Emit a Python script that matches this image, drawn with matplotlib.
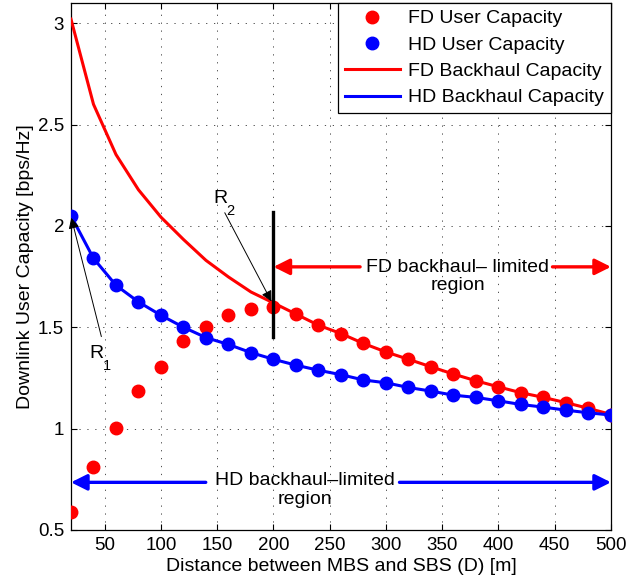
import matplotlib
matplotlib.use("Agg")
import matplotlib.pyplot as plt
from matplotlib.lines import Line2D

plt.rcParams['font.family'] = ['Liberation Sans', 'DejaVu Sans']
plt.rcParams['font.size'] = 14

# ---------------- data ----------------
distance = [20, 40, 60, 80, 100, 120, 140, 160, 180, 200, 220, 240, 260,
            280, 300, 320, 340, 360, 380, 400, 420, 440, 460, 480, 500]
fd_user = [0.59, 0.81, 1.005, 1.185, 1.305, 1.43, 1.50, 1.562, 1.592, 1.60,
           1.565, 1.51, 1.469, 1.42, 1.378, 1.342, 1.305, 1.269, 1.236,
           1.206, 1.177, 1.154, 1.128, 1.10, 1.067]
fd_backhaul = [3.02, 2.60, 2.352, 2.178, 2.043, 1.933, 1.83, 1.748, 1.674,
               1.62, 1.565, 1.51, 1.469, 1.42, 1.378, 1.342, 1.305, 1.269,
               1.236, 1.206, 1.177, 1.154, 1.128, 1.10, 1.07]
hd_user = [2.05, 1.84, 1.707, 1.625, 1.559, 1.50, 1.449, 1.415, 1.375,
           1.342, 1.313, 1.288, 1.266, 1.24, 1.226, 1.203, 1.185, 1.165,
           1.154, 1.137, 1.119, 1.106, 1.091, 1.078, 1.067]
hd_backhaul = hd_user
xticks = [50, 100, 150, 200, 250, 300, 350, 400, 450, 500]
yticks = [0.5, 1, 1.5, 2, 2.5, 3]
ytick_labels = ['0.5', '1', '1.5', '2', '2.5', '3']
series_labels = ['FD User Capacity', 'HD User Capacity',
                 'FD Backhaul Capacity', 'HD Backhaul Capacity']

# ---------------- figure ----------------
fig = plt.figure(figsize=(6.26, 5.84), dpi=100)
ax = fig.add_axes([0.1134, 0.0925, 0.8626, 0.9025])

RED = '#ff0000'
BLUE = '#0000ff'
ms = 9
lw = 2.2
FS = 14

ax.plot(distance, fd_user, 'o', color=RED, ms=ms, mec=RED, zorder=3)
ax.plot(distance, fd_backhaul, '-', color=RED, lw=lw, zorder=3)
ax.plot(distance, hd_backhaul, '-', color=BLUE, lw=lw, zorder=4)
ax.plot(distance, hd_user, 'o', color=BLUE, ms=ms, mec=BLUE, zorder=4)

ax.set_xlim(20, 500)
ax.set_ylim(0.5, 3.1)
ax.set_xticks(xticks)
ax.set_yticks(yticks)
ax.set_yticklabels(ytick_labels)
ax.tick_params(direction='in', top=True, right=True, length=4.5, width=0.8,
               labelsize=13.5, pad=5)
ax.grid(True, linestyle=(0, (1.5, 8)), color='0.2', linewidth=0.6)
for s in ax.spines.values():
    s.set_linewidth(0.9)

ax.set_xlabel('Distance between MBS and SBS (D) [m]', fontsize=FS, labelpad=3)
ax.set_ylabel('Downlink User Capacity [bps/Hz]', fontsize=FS, labelpad=3)

# vertical black marker at D=200
ax.plot([200, 200], [1.454, 2.071], color='black', lw=2.4, zorder=5)

def label_r(x, y, sub):
    ax.text(x, y, 'R', ha='center', va='center', fontsize=FS)
    ax.annotate(sub, xy=(x, y), xytext=(7.5, -9), textcoords='offset points',
                ha='center', va='center', fontsize=10.5)

# R2 annotation
ax.annotate('', xy=(198.2, 1.627), xytext=(156.7, 2.065),
            arrowprops=dict(arrowstyle='-|>', color='black', lw=0.7,
                            mutation_scale=16, shrinkA=0, shrinkB=0), zorder=6)
label_r(152.5, 2.135, '2')

# R1 annotation
ax.annotate('', xy=(20.3, 2.04), xytext=(47, 1.454),
            arrowprops=dict(arrowstyle='-|>', color='black', lw=0.7,
                            mutation_scale=16, shrinkA=0, shrinkB=0), zorder=6)
label_r(42.5, 1.372, '1')

# FD backhaul-limited region
ax.annotate('', xy=(200, 1.798), xytext=(277, 1.798),
            arrowprops=dict(arrowstyle='-|>', color=RED, lw=2.4,
                            mutation_scale=24, shrinkA=0, shrinkB=0), zorder=6)
ax.annotate('', xy=(500, 1.798), xytext=(448, 1.798),
            arrowprops=dict(arrowstyle='-|>', color=RED, lw=2.4,
                            mutation_scale=24, shrinkA=0, shrinkB=0), zorder=6)
ax.text(363.9, 1.75, 'FD backhaul\u2013 limited\nregion', ha='center',
        va='center', fontsize=FS, linespacing=1.12)

# HD backhaul-limited region
ax.annotate('', xy=(20, 0.735), xytext=(139.8, 0.735),
            arrowprops=dict(arrowstyle='-|>', color=BLUE, lw=2.4,
                            mutation_scale=24, shrinkA=0, shrinkB=0), zorder=6)
ax.annotate('', xy=(500, 0.735), xytext=(312, 0.735),
            arrowprops=dict(arrowstyle='-|>', color=BLUE, lw=2.4,
                            mutation_scale=24, shrinkA=0, shrinkB=0), zorder=6)
ax.text(227.8, 0.695, 'HD backhaul\u2013limited\nregion', ha='center',
        va='center', fontsize=FS, linespacing=1.15)

# legend
handles = [
    Line2D([], [], marker='o', color=RED, ls='none', ms=ms),
    Line2D([], [], marker='o', color=BLUE, ls='none', ms=ms),
    Line2D([], [], color=RED, lw=lw),
    Line2D([], [], color=BLUE, lw=lw),
]
leg = ax.legend(handles, series_labels, loc='upper right', borderaxespad=0,
                fancybox=False, framealpha=1, edgecolor='black',
                handlelength=2.8, labelspacing=0.45, fontsize=FS,
                borderpad=0.35, handletextpad=0.45)
leg.get_frame().set_linewidth(0.9)
leg.set_zorder(10)

fig.savefig('out.png', dpi=100)
